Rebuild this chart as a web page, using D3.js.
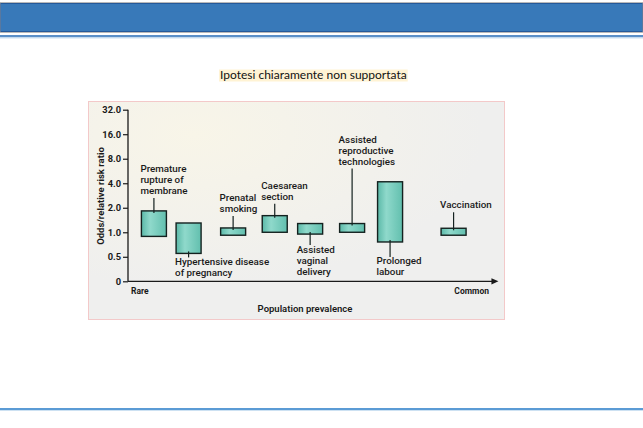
<!DOCTYPE html>
<html><head><meta charset="utf-8">
<script src="https://cdn.jsdelivr.net/npm/d3@7/dist/d3.min.js"></script>
<style>
html,body{margin:0;padding:0;background:#fff;}
svg{display:block;}
</style></head>
<body>
<svg id="c" width="643" height="428"></svg>
<script>
// ---- data ----
const categories = ["Premature rupture of membrane","Hypertensive disease of pregnancy","Prenatal smoking","Caesarean section","Assisted vaginal delivery","Assisted reproductive technologies","Prolonged labour","Vaccination"];
const labelLines = [["Premature","rupture of","membrane"],["Hypertensive disease","of pregnancy"],["Prenatal","smoking"],["Caesarean","section"],["Assisted","vaginal","delivery"],["Assisted","reproductive","technologies"],["Prolonged","labour"],["Vaccination"]];
const prevalence = [7.1, 16.6, 28.8, 40.2, 49.9, 61.4, 71.8, 89.2];   // relative position, rare -> common
const lowValues  = [0.89, 0.55, 0.92, 1.0, 0.95, 1.0, 0.76, 0.92];
const highValues = [1.83, 1.30, 1.13, 1.6, 1.28, 1.28, 4.17, 1.12];
const yTickValues = [0.25, 0.5, 1, 2, 4, 8, 16, 32];
const yTickLabels = ["0", "0.5", "1.0", "2.0", "4.0", "8.0", "16.0", "32.0"];
const title = "Ipotesi chiaramente non supportata";

// ---- layout (label placement) ----
const labelSide = ["top","bottom","top","top","bottom","top","bottom","top"];
const leaderLen = [13, 4, 12, 12, 11, 55, 15, 16];

const svg = d3.select("#c");
const W = 643;

// header
svg.append("rect").attr("x",0.5).attr("y",3.5).attr("width",W-1).attr("height",28)
  .attr("fill","#3879b9").attr("stroke","#25599a").attr("stroke-width",1);
svg.append("rect").attr("x",0).attr("y",2.5).attr("width",W).attr("height",30)
  .attr("fill","none").attr("stroke","#a9a9a9").attr("stroke-width",0.8);
svg.append("rect").attr("x",0).attr("y",35).attr("width",W).attr("height",2.2).attr("fill","#5a8fc8");
svg.append("rect").attr("x",0).attr("y",37.2).attr("width",W).attr("height",1.2).attr("fill","#bcd6ee");
// footer line
svg.append("rect").attr("x",0).attr("y",408).attr("width",W).attr("height",2.3).attr("fill","#5b9bd5");

// title
const tg = svg.append("g");
const tt = tg.append("text").attr("x",220).attr("y",79).attr("font-family","Lato, 'Open Sans', sans-serif")
  .attr("font-size",12).attr("fill","#111").text(title);
const bb = tt.node().getBBox();
tg.insert("rect","text").attr("x",bb.x-1).attr("y",69.5).attr("width",bb.width+2).attr("height",12)
  .attr("fill","#fff3d4");

// panel
svg.append("rect").attr("x",88.5).attr("y",101.5).attr("width",416).attr("height",218)
  .attr("fill","#f1f0ec").attr("stroke","#f3c9c9").attr("stroke-width",1);
const defs = svg.append("defs");
const pg = defs.append("radialGradient").attr("id","pg").attr("cx","0.25").attr("cy","0.15").attr("r","0.7");
pg.append("stop").attr("offset","0").attr("stop-color","#f8f5e8");
pg.append("stop").attr("offset","1").attr("stop-color","#efefee");
svg.append("rect").attr("x",89).attr("y",102).attr("width",415).attr("height",217).attr("fill","url(#pg)");

const bg = defs.append("linearGradient").attr("id","bg").attr("x1","0").attr("x2","1");
bg.append("stop").attr("offset","0").attr("stop-color","#5bb9a8");
bg.append("stop").attr("offset","0.35").attr("stop-color","#8fd9cb");
bg.append("stop").attr("offset","1").attr("stop-color","#62bfae");

// scales
const y = d3.scaleLog().base(2).domain([0.25, 32]).range([281.3, 109.7]);
const x = d3.scaleLinear().domain([0, 100]).range([128, 493]);
const barW = 25;

const fontF = "Roboto, 'Open Sans', sans-serif";

// y axis
const yAxis = d3.axisLeft(y).tickValues(yTickValues)
  .tickFormat((d,i)=>yTickLabels[i]).tickSize(5).tickPadding(2);
const ga = svg.append("g").attr("transform","translate(128,0)").call(yAxis);
ga.select(".domain").attr("stroke","#1a1a1a").attr("stroke-width",1.3).attr("d","M0,"+y(32)+"V"+y(0.25));
ga.selectAll(".tick line").attr("stroke","#1a1a1a").attr("stroke-width",1.2);
ga.selectAll(".tick text").attr("font-family",fontF).attr("font-weight",700)
  .attr("font-size",9.3).attr("fill","#1a1a1a");

// x axis with arrow
defs.append("marker").attr("id","arr").attr("viewBox","0 0 10 10").attr("refX",2).attr("refY",5)
  .attr("markerWidth",6).attr("markerHeight",6).attr("orient","auto")
  .append("path").attr("d","M0,1L9,5L0,9Z").attr("fill","#1a1a1a");
svg.append("line").attr("x1",128).attr("x2",x(100)).attr("y1",y(0.25)).attr("y2",y(0.25))
  .attr("stroke","#1a1a1a").attr("stroke-width",1.3).attr("marker-end","url(#arr)");

svg.append("text").attr("x",131).attr("y",293.5).attr("font-family",fontF).attr("font-weight",700)
  .attr("font-size",8.5).attr("fill","#1a1a1a").text("Rare");
svg.append("text").attr("x",489).attr("y",294).attr("text-anchor","end").attr("font-family",fontF).attr("font-weight",700)
  .attr("font-size",8.5).attr("fill","#1a1a1a").text("Common");
svg.append("text").attr("x",305).attr("y",311.5).attr("text-anchor","middle").attr("font-family",fontF).attr("font-weight",600)
  .attr("font-size",9.5).attr("fill","#1a1a1a").text("Population prevalence");
svg.append("text").attr("transform","translate(104,196) rotate(-90)").attr("text-anchor","middle")
  .attr("font-family",fontF).attr("font-weight",700).attr("font-size",9.5).attr("fill","#1a1a1a")
  .text("Odds/relative risk ratio");

// bars
const data = categories.map((c,i)=>({c, lines:labelLines[i], p:prevalence[i], lo:lowValues[i], hi:highValues[i], side:labelSide[i], len:leaderLen[i]}));
const g = svg.append("g");
g.selectAll("rect.bar").data(data).join("rect").attr("class","bar")
  .attr("x",d=>x(d.p)-barW/2).attr("width",barW)
  .attr("y",d=>y(d.hi)).attr("height",d=>y(d.lo)-y(d.hi))
  .attr("fill","url(#bg)").attr("stroke","#14211f").attr("stroke-width",1.4);

// leaders
g.selectAll("line.lead").data(data).join("line").attr("class","lead")
  .attr("x1",d=>x(d.p)).attr("x2",d=>x(d.p))
  .attr("y1",d=>d.side==="top"? y(d.hi)+2 : y(d.lo)-2)
  .attr("y2",d=>d.side==="top"? y(d.hi)-d.len : y(d.lo)+d.len)
  .attr("stroke","#14211f").attr("stroke-width",1.2);

// labels
const lh = 11;
data.forEach(d=>{
  const lx = x(d.p)-barW/2-1;
  let y0;
  if(d.side==="top"){ y0 = y(d.hi)-d.len-4-(d.lines.length-1)*lh; }
  else { y0 = y(d.lo)+d.len+7.5; }
  const t = g.append("text").attr("x",lx).attr("y",y0).attr("font-family",fontF)
    .attr("font-weight",500).attr("font-size",9.8).attr("fill","#1a1a1a");
  d.lines.forEach((l,k)=>t.append("tspan").attr("x",lx).attr("y",y0+k*lh).text(l));
});
</script>
</body></html>
